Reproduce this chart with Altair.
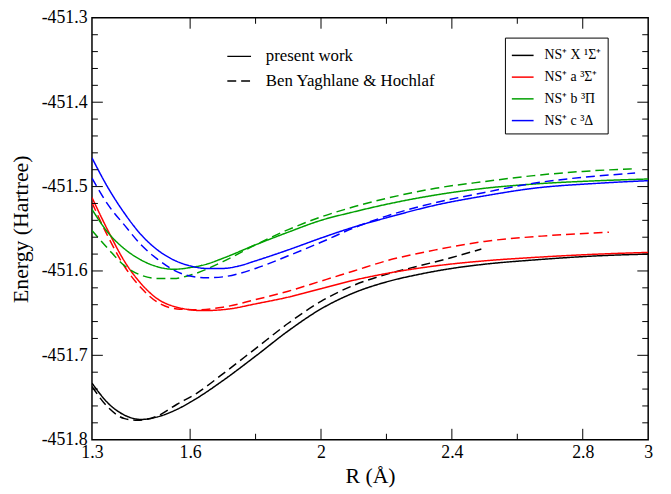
import altair as alt
import pandas as pd

# ---------------- data ----------------
STATES = ["NS⁺ X ¹Σ⁺", "NS⁺ a ³Σ⁺", "NS⁺ b ³Π", "NS⁺ c ³Δ"]
COLORS = ["#000000", "#ff0000", "#00a000", "#0000ff"]
SOURCES = ["present work", "Ben Yaghlane & Hochlaf"]

# X 1Sigma+
X_pw_R = [1.30, 1.35, 1.40, 1.45, 1.50, 1.56, 1.62, 1.70, 1.80, 1.90, 2.00, 2.10, 2.20, 2.30, 2.40, 2.50, 2.65, 2.85, 3.00]
X_pw_E = [-451.733, -451.757, -451.771, -451.776, -451.773, -451.764, -451.751, -451.730, -451.701, -451.671,
          -451.645, -451.626, -451.613, -451.604, -451.597, -451.592, -451.587, -451.582, -451.580]
X_by_R = [1.30, 1.35, 1.40, 1.44, 1.50, 1.56, 1.62, 1.70, 1.80, 1.90, 2.00, 2.10, 2.20, 2.30, 2.40, 2.49]
X_by_E = [-451.737, -451.762, -451.775, -451.777, -451.772, -451.758, -451.745, -451.722, -451.692, -451.662,
          -451.636, -451.617, -451.604, -451.594, -451.584, -451.574]

# a 3Sigma+
A_pw_R = [1.30, 1.35, 1.40, 1.45, 1.50, 1.56, 1.64, 1.72, 1.80, 1.90, 2.00, 2.10, 2.20, 2.35, 2.50, 2.65, 2.85, 3.00]
A_pw_E = [-451.513, -451.553, -451.589, -451.615, -451.633, -451.643, -451.647, -451.645, -451.639, -451.631,
          -451.621, -451.611, -451.603, -451.594, -451.588, -451.584, -451.580, -451.578]
A_by_R = [1.30, 1.35, 1.40, 1.45, 1.50, 1.56, 1.62, 1.70, 1.80, 1.90, 2.00, 2.10, 2.20, 2.35, 2.50, 2.70, 2.88]
A_by_E = [-451.519, -451.560, -451.595, -451.620, -451.637, -451.645, -451.646, -451.643, -451.634, -451.624,
          -451.612, -451.600, -451.588, -451.575, -451.565, -451.558, -451.554]

# b 3Pi
B_pw_R = [1.30, 1.35, 1.40, 1.45, 1.50, 1.55, 1.60, 1.65, 1.70, 1.80, 1.90, 2.00, 2.10, 2.20, 2.35, 2.50, 2.65, 2.85, 3.00]
B_pw_E = [-451.527, -451.555, -451.574, -451.587, -451.595, -451.598, -451.596, -451.592, -451.585, -451.569,
          -451.554, -451.540, -451.530, -451.521, -451.510, -451.502, -451.497, -451.493, -451.491]
B_by_R = [1.30, 1.35, 1.40, 1.45, 1.50, 1.55, 1.60, 1.70, 1.80, 1.90, 2.00, 2.10, 2.20, 2.35, 2.50, 2.65, 2.80, 2.95]
B_by_E = [-451.552, -451.574, -451.594, -451.605, -451.609, -451.609, -451.605, -451.589, -451.569, -451.551,
          -451.536, -451.524, -451.514, -451.502, -451.494, -451.487, -451.482, -451.479]

# c 3Delta
C_pw_R = [1.30, 1.35, 1.40, 1.45, 1.50, 1.55, 1.60, 1.65, 1.70, 1.75, 1.80, 1.90, 2.00, 2.10, 2.20, 2.35, 2.50, 2.65, 2.85, 3.00]
C_pw_E = [-451.466, -451.502, -451.532, -451.557, -451.575, -451.587, -451.594, -451.597, -451.597, -451.594,
          -451.588, -451.575, -451.561, -451.548, -451.537, -451.522, -451.511, -451.502, -451.496, -451.493]
C_by_R = [1.30, 1.35, 1.40, 1.45, 1.50, 1.55, 1.60, 1.65, 1.70, 1.75, 1.80, 1.90, 2.00, 2.10, 2.20, 2.35, 2.50, 2.65, 2.80, 2.96]
C_by_E = [-451.490, -451.522, -451.546, -451.569, -451.586, -451.599, -451.606, -451.608, -451.607, -451.603,
          -451.597, -451.582, -451.566, -451.549, -451.535, -451.519, -451.507, -451.496, -451.489, -451.484]

X_LABELS = [1.3, 1.6, 2.0, 2.4, 2.8, 3.0]
Y_LABELS = [-451.8, -451.7, -451.6, -451.5, -451.4, -451.3]
X_MAJOR = [1.6, 2.0, 2.4, 2.8]
X_MINOR = [1.8, 2.2, 2.6]
Y_MAJOR = [-451.7, -451.6, -451.5, -451.4]
Y_MINOR = [-451.78, -451.76, -451.74, -451.72, -451.68, -451.66, -451.64, -451.62, -451.58, -451.56, -451.54,
           -451.52, -451.48, -451.46, -451.44, -451.42, -451.38, -451.36, -451.34, -451.32]

# ---------------- table ----------------
series = [
    (STATES[0], SOURCES[0], X_pw_R, X_pw_E), (STATES[0], SOURCES[1], X_by_R, X_by_E),
    (STATES[1], SOURCES[0], A_pw_R, A_pw_E), (STATES[1], SOURCES[1], A_by_R, A_by_E),
    (STATES[2], SOURCES[0], B_pw_R, B_pw_E), (STATES[2], SOURCES[1], B_by_R, B_by_E),
    (STATES[3], SOURCES[0], C_pw_R, C_pw_E), (STATES[3], SOURCES[1], C_by_R, C_by_E),
]
rows = []
for st, src, rr, ee in series:
    for r, e in zip(rr, ee):
        rows.append({"R": r, "E": e, "state": st, "source": src, "key": st + "|" + src})
df = pd.DataFrame(rows)

W, H = 563, 427
FONT = "Liberation Serif"
xs = alt.Scale(domain=[1.3, 3.0], nice=False, zero=False)
ys = alt.Scale(domain=[-451.8, -451.3], nice=False, zero=False)

x_axis = alt.Axis(values=X_LABELS, format="~g", title="R (Å)", grid=False, ticks=False, tickSize=0, domain=False,
                  labelFont=FONT, labelFontSize=18, labelColor="black", labelPadding=4, labelFlush=False,
                  labelOverlap=False, titleFont=FONT, titleFontSize=22, titleFontWeight="normal",
                  titleColor="black", titlePadding=4)
y_axis = alt.Axis(values=Y_LABELS, labelExpr="'-' + format(-datum.value, '.1f')", title="Energy (Hartree)",
                  grid=False, ticks=False, tickSize=0, domain=False, labelFont=FONT, labelFontSize=18,
                  labelColor="black", labelPadding=5, labelFlush=False, labelOverlap=False,
                  titleFont=FONT, titleFontSize=22, titleFontWeight="normal", titleColor="black", titlePadding=9)

lines = alt.Chart(df).mark_line(strokeWidth=1.5, clip=True, interpolate="monotone").encode(
    x=alt.X("R:Q", scale=xs, axis=x_axis),
    y=alt.Y("E:Q", scale=ys, axis=y_axis),
    color=alt.Color("state:N", scale=alt.Scale(domain=STATES, range=COLORS),
                    legend=alt.Legend(title=None, orient="none", legendX=418, legendY=20,
                                      symbolType="stroke", symbolSize=484, symbolStrokeWidth=1.5,
                                      labelFont=FONT, labelFontSize=14, labelColor="black", labelOffset=10,
                                      labelLimit=300, rowPadding=3, padding=6, strokeColor="black",
                                      fillColor="white")),
    strokeDash=alt.StrokeDash("source:N", scale=alt.Scale(domain=SOURCES, range=[[1, 0], [9, 5]]),
                              legend=alt.Legend(title=None, orient="none", legendX=136, legendY=26,
                                                symbolType="stroke", symbolSize=576, symbolStrokeWidth=1.5,
                                                symbolStrokeColor="black", labelFont=FONT, labelFontSize=17,
                                                labelColor="black", labelOffset=14, labelLimit=400,
                                                rowPadding=4, padding=0)),
    detail="key:N",
)

def xticks(vals, length):
    d = pd.DataFrame({"R": vals})
    bottom = alt.Chart(d).mark_rule(color="black", strokeWidth=1).encode(
        x=alt.X("R:Q", scale=xs, axis=x_axis), y=alt.value(H), y2=alt.value(H - length))
    top = alt.Chart(d).mark_rule(color="black", strokeWidth=1).encode(
        x=alt.X("R:Q", scale=xs, axis=x_axis), y=alt.value(0), y2=alt.value(length))
    return [bottom, top]

def yticks(vals, length):
    d = pd.DataFrame({"E": vals})
    left = alt.Chart(d).mark_rule(color="black", strokeWidth=1).encode(
        y=alt.Y("E:Q", scale=ys, axis=y_axis), x=alt.value(0), x2=alt.value(length))
    right = alt.Chart(d).mark_rule(color="black", strokeWidth=1).encode(
        y=alt.Y("E:Q", scale=ys, axis=y_axis), x=alt.value(W), x2=alt.value(W - length))
    return [left, right]

tick_layers = xticks(X_MAJOR, 11) + xticks(X_MINOR, 6) + yticks(Y_MAJOR, 11) + yticks(Y_MINOR, 6)

chart = alt.layer(lines, *tick_layers).properties(
    width=W, height=H,
    autosize=alt.AutoSizeParams(type="none"),
    padding={"left": 85, "top": 7, "right": 15, "bottom": 52},
    background="white",
).configure_view(stroke="black", strokeWidth=1.5)

chart.save("out.html", embed_options={"renderer": "svg", "actions": False})
